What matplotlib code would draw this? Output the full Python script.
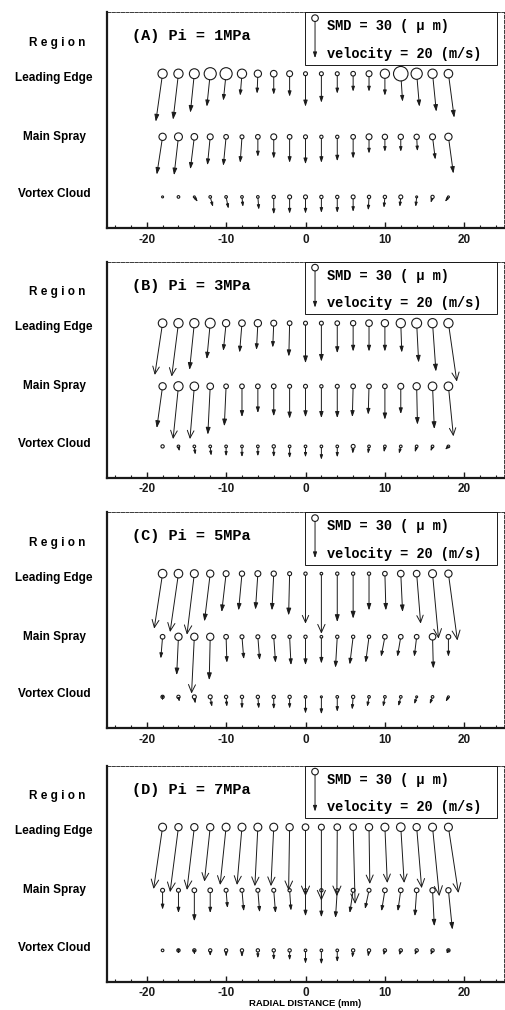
import numpy as np
import matplotlib
matplotlib.use('Agg')
import matplotlib.pyplot as plt
from matplotlib.patches import Rectangle

plt.rcParams['axes.unicode_minus'] = False

# radial measuring stations (mm)
radial = [-18, -16, -14, -12, -10, -8, -6, -4, -2, 0, 2, 4, 6, 8, 10, 12, 14, 16, 18]

# SMD (um), radial velocity (m/s, + outward to the right), axial velocity (m/s, downward)
# (A) Pi = 1MPa
smd_a_lead = [42, 42, 45, 55, 55, 42, 33, 30, 27, 18, 18, 18, 21, 27, 42, 66, 51, 42, 39]
vr_a_lead = [-3.4, -2.7, -2.0, -1.7, -1.4, -0.9, -0.4, 0, 0, 0, 0, 0, 0, 0, 0, 0.9, 1.4, 1.9, 2.9]
vz_a_lead = [24, 23, 19.5, 16.5, 13.5, 11, 10, 10.5, 11.5, 16.5, 14.5, 10, 9, 9, 11, 14, 16.5, 19, 22]
smd_a_main = [33, 36, 30, 27, 21, 18, 21, 27, 21, 18, 15, 15, 21, 27, 24, 24, 24, 27, 33]
vr_a_main = [-2.9, -2.2, -2.0, -1.4, -1.4, -0.9, 0, 0, 0, 0, 0, 0, 0, 0, 0, 0, 0.4, 1.4, 2.5]
vz_a_main = [18.9, 19.2, 16.2, 14.2, 14.5, 13, 10, 10.9, 13, 13.7, 13, 12.2, 10.9, 8.4, 7.5, 7.5, 7.2, 11.4, 18.4]
smd_a_vort = [9, 12, 9, 12, 12, 12, 12, 15, 18, 18, 15, 15, 18, 15, 15, 18, 9, 15, 9]
vr_a_vort = [0, 0, 1.7, 1.4, 1.2, 0.5, 0.5, 0, 0, 0, 0, 0, 0, -0.4, -0.5, -0.5, -0.5, -0.9, -1.7]
vz_a_vort = [0, 0, 2.5, 5, 5.9, 5, 6.4, 8.7, 8.4, 8.4, 8, 8, 7.5, 6.7, 5.5, 5, 5, 3, 2.5]

# (B) Pi = 3MPa
smd_b_lead = [39, 42, 42, 45, 33, 30, 33, 27, 21, 18, 18, 21, 24, 30, 33, 42, 45, 42, 42]
vr_b_lead = [-3.9, -3.4, -2.4, -1.7, -1.4, -1.2, -0.7, -0.5, -0.4, 0, 0, 0, 0, 0, 0, 0.5, 1.0, 1.7, 4.2]
vz_b_lead = [25.9, 26.7, 23.4, 18, 13.9, 14.7, 13.4, 12.2, 16.7, 20, 19.2, 15, 14.2, 14.2, 14.2, 14.7, 19.7, 24.2, 29.2]
smd_b_main = [33, 42, 39, 30, 21, 21, 21, 21, 18, 18, 15, 18, 21, 21, 21, 27, 33, 39, 39]
vr_b_main = [-2.9, -2.7, -2.2, -1.2, -0.9, 0, 0, 0, 0, 0, 0, 0, -0.4, -0.4, 0, 0, 0.4, 0.9, 2.5]
vz_b_main = [20.9, 26.4, 26.4, 24.2, 20, 15.4, 13.4, 15, 16.2, 15.5, 15.9, 15.9, 15.4, 14.2, 16.7, 13.9, 19.2, 21.4, 25]
smd_b_vort = [15, 12, 12, 12, 12, 12, 12, 15, 12, 12, 12, 12, 18, 12, 12, 12, 12, 12, 12]
vr_b_vort = [0, 0.5, 0.5, 0.5, 0, 0, 0, 0, 0, 0, 0, 0, -0.2, -0.5, -0.5, -0.9, -0.9, -1.0, -1.7]
vz_b_vort = [0, 2.5, 4.2, 4.7, 5, 5.4, 5, 5.4, 5.9, 5.5, 6.7, 5.5, 3.7, 3.7, 3, 3.7, 3, 2.5, 1.7]

# (C) Pi = 5MPa
smd_c_lead = [39, 39, 36, 33, 27, 24, 27, 24, 18, 15, 12, 15, 15, 15, 21, 30, 30, 36, 33]
vr_c_lead = [-4.2, -4.2, -3.7, -2.9, -2.2, -1.7, -1.2, -0.9, -0.5, 0, 0, 0, 0, 0, 0.5, 0.9, 2.0, 3.0, 4.5]
vz_c_lead = [27.5, 29.2, 30.5, 23.9, 19.2, 18.4, 18, 18.4, 20.9, 25, 30, 24.2, 22.5, 18.4, 18.4, 19.2, 25, 32.5, 33.4]
smd_c_main = [21, 33, 33, 33, 21, 18, 18, 18, 15, 15, 12, 15, 15, 15, 21, 21, 21, 30, 21]
vr_c_main = [-0.9, -0.9, -1.4, -0.5, 0.4, 0.9, 0.9, 0.9, 0.7, 0, 0, -0.9, -1.7, -1.7, -1.9, -1.7, -1.2, 0.4, 0]
vz_c_main = [10.9, 19.2, 28.4, 21.7, 13, 11.2, 11.7, 13, 14.2, 14.2, 13.4, 15.5, 13.9, 13, 10, 10, 10, 15.9, 10]
smd_c_vort = [15, 15, 18, 18, 15, 15, 15, 15, 15, 12, 9, 12, 15, 12, 12, 12, 9, 12, 9]
vr_c_vort = [0, 0.5, 0.5, 0.9, 0.4, 0, 0.5, 0, 0, 0, 0, 0, -0.5, -0.9, -0.9, -1.2, -1.2, -1.4, -1.4]
vz_c_vort = [1.7, 2.5, 3.4, 5, 5, 5.9, 5.9, 6.2, 5.9, 8.4, 8.7, 7.5, 6.4, 5, 5, 4.7, 3.7, 3.7, 2.5]

# (D) Pi = 7MPa
smd_d_lead = [36, 33, 33, 33, 36, 36, 36, 36, 33, 30, 27, 30, 30, 33, 36, 39, 33, 36, 36]
vr_d_lead = [-4.5, -4.2, -3.7, -2.9, -3.0, -2.5, -1.5, -1.4, -0.5, 0, 0, -0.2, 1.0, 0.4, 1.2, 1.7, 2.5, 3.4, 5.0]
vz_d_lead = [30.9, 32.5, 31.4, 27.2, 28.9, 28.9, 29.5, 29.5, 31.7, 34.5, 36.7, 34.5, 38.4, 28.4, 27.9, 27.9, 30.5, 34.5, 32.9]
smd_d_main = [18, 18, 21, 21, 18, 18, 18, 18, 15, 15, 15, 15, 18, 18, 21, 21, 21, 24, 24]
vr_d_main = [0, 0, 0, 0, 0.7, 0.9, 0.9, 0.9, 0.7, 0, 0, -0.9, -1.7, -2.0, -1.7, -1.5, -0.9, 0.9, 2.0]
vz_d_main = [9.7, 11.4, 15.5, 11.4, 8.9, 10.5, 11, 11.4, 10.2, 13, 13.5, 13.9, 11.4, 9.4, 10.5, 10.5, 13, 18, 19.7]
smd_d_vort = [12, 15, 15, 15, 15, 15, 15, 15, 15, 12, 12, 12, 15, 15, 15, 15, 15, 15, 15]
vr_d_vort = [0, 0, 0, 0, 0, 0, 0, 0, 0, 0, 0, 0, -0.4, -0.5, -0.7, -0.7, -1.0, -1.0, -1.0]
vz_d_vort = [0, 1.7, 2, 2.9, 3.2, 3.4, 4, 4.9, 5, 6.7, 7, 5.9, 3.7, 3.2, 2.5, 2.5, 2.4, 2.4, 1.7]

titles = ['(A) Pi = 1MPa', '(B) Pi = 3MPa', '(C) Pi = 5MPa', '(D) Pi = 7MPa']
regions = ['Leading Edge', 'Main Spray', 'Vortex Cloud']

panels = [
    [(smd_a_lead, vr_a_lead, vz_a_lead), (smd_a_main, vr_a_main, vz_a_main), (smd_a_vort, vr_a_vort, vz_a_vort)],
    [(smd_b_lead, vr_b_lead, vz_b_lead), (smd_b_main, vr_b_main, vz_b_main), (smd_b_vort, vr_b_vort, vz_b_vort)],
    [(smd_c_lead, vr_c_lead, vz_c_lead), (smd_c_main, vr_c_main, vz_c_main), (smd_c_vort, vr_c_vort, vz_c_vort)],
    [(smd_d_lead, vr_d_lead, vz_d_lead), (smd_d_main, vr_d_main, vz_d_main), (smd_d_vort, vr_d_vort, vz_d_vort)],
]

DPI = 100
PT_PER_UM = 0.22 * 72 / DPI      # circle diameter, points per micron
PT_PER_MS = 2.0 * 72 / DPI       # arrow length, points per m/s
ROW_Y = [0.715, 0.423, 0.145]
LABEL_Y = [0.697, 0.424, 0.157]
INK = '#1a1a1a'
MONO = 'Liberation Mono'
SANS = 'Liberation Sans'


def arrow_props(length, shrink):
    # short vectors get small solid heads, long ones open V heads like the original
    if length < 36:
        hl = float(np.clip(0.08 * length + 1.8, 2.0, 4.2))
        style = '<|-, head_length=%.2f, head_width=%.2f' % (hl, 0.33 * hl)
    else:
        hl = float(np.clip(0.1 * length + 1.5, 4.5, 6.5))
        style = '<-, head_length=%.2f, head_width=%.2f' % (hl, 0.45 * hl)
    return dict(arrowstyle=style, mutation_scale=1, color=INK, lw=0.7,
                shrinkA=0, shrinkB=shrink)


def draw_drops(ax, y, smd, vr, vz):
    x = np.array(radial, dtype=float)
    d_pt = np.array(smd) * PT_PER_UM
    ax.scatter(x, np.full(len(x), y), s=d_pt ** 2, facecolors='none',
               edgecolors=INK, linewidths=0.8, zorder=3)
    for xi, di, u, v in zip(x, d_pt, vr, vz):
        length = np.hypot(u, v) * PT_PER_MS
        if length < 1.5:
            continue
        ax.annotate('', xy=(xi, y), xycoords='data',
                    xytext=(u * PT_PER_MS, -v * PT_PER_MS), textcoords='offset points',
                    arrowprops=arrow_props(length, di / 2))


def draw_key(ax):
    ax.add_patch(Rectangle((0.499, 0.756), 0.483, 0.244, transform=ax.transAxes,
                           fill=False, ec=INK, lw=0.7, zorder=4))
    cx, cy = 0.524, 0.972
    ax.scatter([cx], [cy], s=(30 * PT_PER_UM) ** 2, facecolors='none', edgecolors=INK,
               linewidths=0.8, transform=ax.transAxes, zorder=5, clip_on=False)
    ax.annotate('', xy=(cx, cy), xycoords='axes fraction',
                xytext=(0, -20 * PT_PER_MS), textcoords='offset points',
                arrowprops=arrow_props(20, 30 * PT_PER_UM / 2))
    ax.text(0.553, 0.935, 'SMD = 30 ( \u03bc m)', transform=ax.transAxes,
            family=MONO, weight='bold', fontsize=9.8, va='center', ha='left')
    ax.text(0.553, 0.808, 'velocity = 20 (m/s)', transform=ax.transAxes,
            family=MONO, weight='bold', fontsize=9.8, va='center', ha='left')


fig = plt.figure(figsize=(505 / DPI, 1010 / DPI), dpi=DPI)
bottoms = [0.774, 0.527, 0.279, 0.028]

for k, (title, rows) in enumerate(zip(titles, panels)):
    ax = fig.add_axes([107 / 505, bottoms[k], 397 / 505, 0.214])
    ax.set_xlim(-25, 25)
    ax.set_ylim(0, 1)
    ax.set_yticks([])
    ax.set_xticks([-20, -10, 0, 10, 20])
    ax.set_xticks(np.arange(-24, 25, 2), minor=True)
    ax.tick_params(axis='x', which='major', direction='in', length=4.5, width=1.0,
                   pad=4, labelsize=8.5, colors=INK)
    ax.tick_params(axis='x', which='minor', direction='in', length=2.5, width=0.8, colors=INK)
    for lab in ax.get_xticklabels():
        lab.set_fontfamily(SANS)
        lab.set_fontweight('bold')
    ax.spines['left'].set_linewidth(1.6)
    ax.spines['bottom'].set_linewidth(1.6)
    ax.spines['top'].set_linewidth(0.6)
    ax.spines['top'].set_linestyle((0, (4, 1.5)))
    ax.spines['right'].set_linewidth(0.6)
    ax.spines['right'].set_linestyle((0, (4, 2)))
    for s in ax.spines.values():
        s.set_color(INK)

    for y, (smd, vr, vz) in zip(ROW_Y, rows):
        draw_drops(ax, y, smd, vr, vz)

    draw_key(ax)

    ax.text(0.062, 0.889, title, transform=ax.transAxes, family=MONO, weight='bold',
            fontsize=11, va='center', ha='left')
    ax.text(-0.126, 0.858, 'R e g i o n', transform=ax.transAxes, family=SANS,
            weight='bold', fontsize=8.5, va='center', ha='center')
    for ly, name in zip(LABEL_Y, regions):
        ax.text(-0.133, ly, name, transform=ax.transAxes, family=SANS,
                weight='bold', fontsize=8.5, va='center', ha='center')

fig.text(305.5 / 505, 1 - 1004 / 1010, 'RADIAL DISTANCE (mm)', family=SANS,
         weight='bold', fontsize=6.8, ha='center', va='center')

fig.savefig('out.png', dpi=DPI)
